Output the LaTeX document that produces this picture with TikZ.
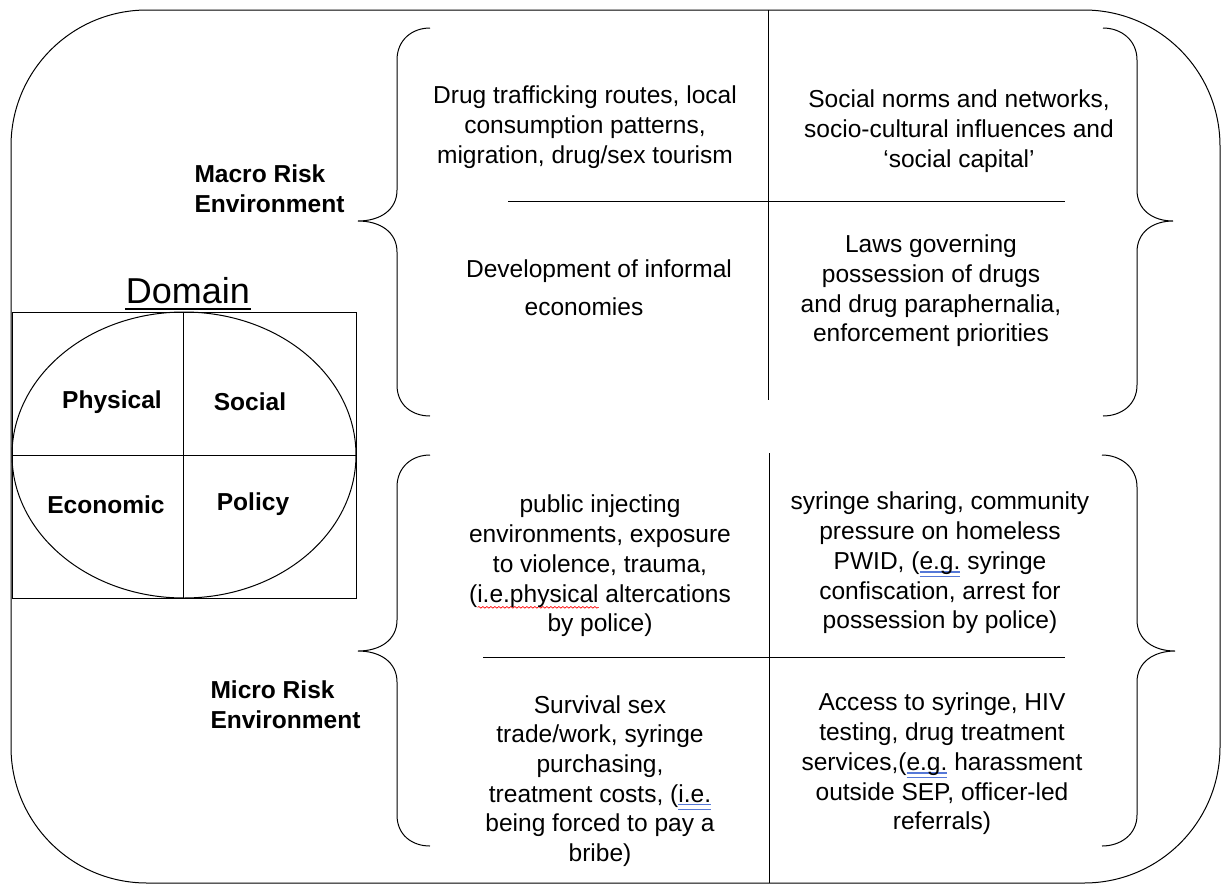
\documentclass[tikz,border=0pt]{standalone}
\usepackage{fontspec}
\setmainfont{Liberation Sans}
\usetikzlibrary{decorations.pathmorphing}

\definecolor{ulblue}{RGB}{85,120,215}
\newsavebox{\markbox}
\newcommand{\grammarline}[1]{\sbox{\markbox}{#1}\rlap{\color{ulblue}\rule[-2.4pt]{\wd\markbox}{.8pt}}\rlap{\color{ulblue}\rule[-6pt]{\wd\markbox}{.8pt}}\usebox{\markbox}}
\newcommand{\spellwave}[1]{\sbox{\markbox}{#1}\rlap{\raisebox{-4.8pt}{\tikz\draw[red, line width=0.5pt, decorate, decoration={snake, amplitude=0.6pt, segment length=3pt}] (0pt,0pt) -- (\the\wd\markbox,0pt);}}\usebox{\markbox}}

\tikzset{every picture/.style={line width=0.75pt}}
\tikzset{
  body/.style={align=center, inner sep=0.75pt, font=\fontsize{18.4}{22.3}\selectfont},
  heading/.style={align=left, inner sep=0pt, font=\fontsize{18.4}{22.3}\selectfont\bfseries},
  quad/.style={inner sep=0pt, font=\fontsize{18.4}{22.3}\selectfont\bfseries},
}

\begin{document}
\begin{tikzpicture}[x=0.75pt,y=0.75pt,yscale=-1,xscale=1]
\useasboundingbox (0,0) rectangle (1222,886);

%Rounded Rect [id:dp3381907215]
\draw [rounded corners=102pt] (11,10) rectangle (1220,883) ;
%Shape: Rectangle [id:dp7702918453]
\draw   (12,312) rectangle (356,598) ;
%Shape: Ellipse [id:dp5127740096]
\draw   (184,455) ellipse [x radius=172, y radius=143] ;
%Straight Lines [id:da4410286357]
\draw    (183,312) -- (183,598) ;
%Straight Lines [id:da9063172548]
\draw    (12,455) -- (356,455) ;

%Straight Lines [id:da2257069113]
\draw    (768,10) -- (768,400) ;
%Straight Lines [id:da6390412875]
\draw    (508,201) -- (1065,201) ;
%Straight Lines [id:da1874450329]
\draw    (769,453) -- (769,883) ;
%Straight Lines [id:da8342657014]
\draw    (483,657) -- (1065,657) ;

%Shape: Brace [id:dp6615208437]
\draw   (430,28) .. controls (412,28) and (397,40) .. (397,60) -- (397,190) .. controls (397,210) and (380,221) .. (358,221) .. controls (380,221) and (397,232) .. (397,252) -- (397,385) .. controls (397,405) and (412,416) .. (430,416) ;
%Shape: Brace [id:dp2975530184]
\draw   (1103,28) .. controls (1121,28) and (1137,40) .. (1137,60) -- (1137,190) .. controls (1137,210) and (1153,221) .. (1173,221) .. controls (1153,221) and (1137,232) .. (1137,252) -- (1137,385) .. controls (1137,405) and (1121,416) .. (1103,416) ;
%Shape: Brace [id:dp4058316629]
\draw   (430,455) .. controls (412,455) and (397,467) .. (397,487) -- (397,620) .. controls (397,640) and (380,651) .. (358,651) .. controls (380,651) and (397,662) .. (397,682) -- (397,815) .. controls (397,835) and (412,846) .. (430,846) ;
%Shape: Brace [id:dp8153372904]
\draw   (1102,455) .. controls (1120,455) and (1137,467) .. (1137,487) -- (1137,620) .. controls (1137,640) and (1154,651) .. (1175,651) .. controls (1154,651) and (1137,662) .. (1137,682) -- (1137,815) .. controls (1137,835) and (1120,846) .. (1102,846) ;

% Text Node
\node [inner sep=0pt, anchor=base, font=\fontsize{27}{32}\selectfont] (domain) at (188,303) {Domain};
\draw [line width=1.2pt] ([yshift=4.5pt]domain.base west) -- ([yshift=4.5pt]domain.base east) ;
% Text Node
\node [quad, anchor=base] (physical) at (112,408) {Physical};
% Text Node
\node [quad, anchor=base] (social) at (250,410) {Social};
% Text Node
\node [quad, anchor=base] (economic) at (106,513) {Economic};
% Text Node
\node [quad, anchor=base] (policy) at (253,510) {Policy};

% Text Node
\node [heading, anchor=north west] (macro) at (194,164) {Macro Risk\\Environment};
% Text Node
\node [heading, anchor=north west] (micro) at (210,680) {Micro Risk\\Environment};

% Text Node
\node [body] (trafficking) at (585,127) {Drug trafficking routes, local\\consumption patterns,\\migration, drug/sex tourism};
% Text Node
\node [body] (norms) at (959,131) {Social norms and networks,\\socio-cultural influences and\\`social capital'};
% Text Node
\node [body, anchor=base] (informal) at (599,277) {Development of informal};
% Text Node
\node [body, anchor=base] (economies) at (584,315) {economies};
% Text Node
\node [body] (laws) at (931,291) {Laws governing\\possession of drugs\\and drug paraphernalia,\\enforcement priorities};

% Text Node
\node [body] (injecting) at (600,566) {public injecting\\environments, exposure\\to violence, trauma,\\(\spellwave{i.e.physical} altercations\\by police)};
% Text Node
\node [body] (sharing) at (940,563) {syringe sharing, community\\pressure on homeless\\PWID, (\grammarline{e.g.} syringe\\confiscation, arrest for\\possession by police)};
% Text Node
\node [body] (survival) at (600,781) {Survival sex\\trade/work, syringe\\purchasing,\\treatment costs, (\grammarline{i.e.}\\being forced to pay a\\bribe)};
% Text Node
\node [body] (access) at (942,764) {Access to syringe, HIV\\testing, drug treatment\\services,(\grammarline{e.g.} harassment\\outside SEP, officer-led\\referrals)};

\end{tikzpicture}
\end{document}
